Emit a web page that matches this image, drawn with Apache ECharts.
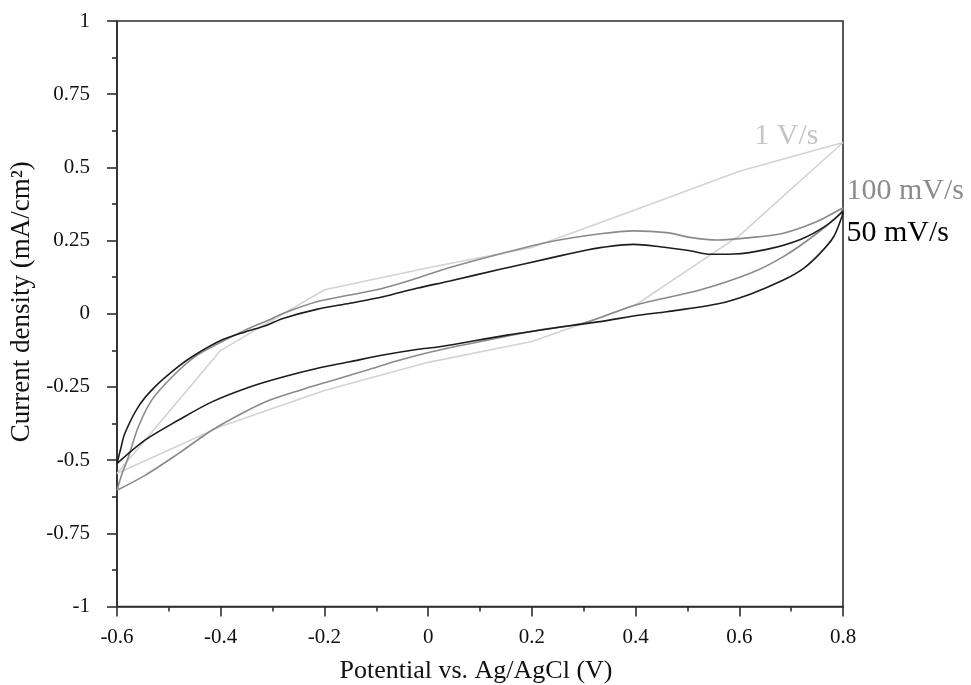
<!DOCTYPE html>
<html>
<head>
<meta charset="utf-8">
<title>Cyclic voltammetry</title>
<script src="https://cdn.jsdelivr.net/npm/echarts@6/dist/echarts.min.js"></script>
<style>
  html, body { margin: 0; padding: 0; background: #fff; }
  #chart { width: 971px; height: 685px; }
</style>
</head>
<body>
<div id="chart"></div>
<script>
// Scan-rate labels
const scanRates = ['1 V/s', '100 mV/s', '50 mV/s'];

// Axis ticks
const xTicks = [-0.6, -0.4, -0.2, 0, 0.2, 0.4, 0.6, 0.8];
const yTicks = [-1, -0.75, -0.5, -0.25, 0, 0.25, 0.5, 0.75, 1];

// 1 V/s: potential (V) and current density (mA/cm²), one closed cycle
const potential1V = [-0.6, -0.4, -0.2, 0, 0.2, 0.4, 0.6, 0.8, 0.6, 0.4, 0.2, 0, -0.2, -0.4, -0.6];
const current1V   = [-0.546, -0.125, 0.082, 0.157, 0.226, 0.355, 0.487, 0.585, 0.267, 0.03, -0.095, -0.166, -0.262, -0.385, -0.546];

// 100 mV/s
const potential100 = [-0.6, -0.59, -0.578, -0.559, -0.533, -0.494, -0.45, -0.398, -0.353, -0.308, -0.28, -0.215, -0.151, -0.087, -0.022, 0.042, 0.14, 0.235, 0.332, 0.396, 0.46, 0.505, 0.557, 0.621, 0.685, 0.75, 0.795, 0.8,
                      0.795, 0.75, 0.685, 0.621, 0.524, 0.4, 0.3, 0.216, 0.152, 0.022, -0.054, -0.119, -0.183, -0.247, -0.305, -0.353, -0.417, -0.482, -0.546, -0.6];
const current100   = [-0.603, -0.545, -0.489, -0.387, -0.295, -0.216, -0.147, -0.096, -0.056, -0.022, 0.001, 0.041, 0.064, 0.087, 0.121, 0.158, 0.205, 0.246, 0.273, 0.283, 0.277, 0.261, 0.252, 0.26, 0.275, 0.315, 0.357, 0.362,
                      0.343, 0.275, 0.195, 0.138, 0.081, 0.03, -0.032, -0.055, -0.077, -0.124, -0.158, -0.193, -0.227, -0.261, -0.295, -0.335, -0.398, -0.478, -0.552, -0.603];

// 50 mV/s
const potential50 = [-0.6, -0.592, -0.585, -0.559, -0.527, -0.482, -0.45, -0.398, -0.353, -0.311, -0.28, -0.215, -0.151, -0.087, -0.022, 0.042, 0.139, 0.235, 0.306, 0.332, 0.396, 0.447, 0.505, 0.544, 0.589, 0.653, 0.718, 0.769, 0.8,
                     0.798, 0.782, 0.756, 0.724, 0.685, 0.621, 0.557, 0.46, 0.409, 0.332, 0.28, 0.152, 0.022, -0.022, -0.087, -0.151, -0.215, -0.28, -0.344, -0.417, -0.482, -0.546, -0.6];
const current50   = [-0.512, -0.455, -0.409, -0.318, -0.25, -0.181, -0.141, -0.09, -0.062, -0.039, -0.016, 0.015, 0.036, 0.058, 0.087, 0.112, 0.152, 0.19, 0.218, 0.226, 0.237, 0.229, 0.215, 0.203, 0.204, 0.22, 0.254, 0.303, 0.35,
                     0.332, 0.263, 0.207, 0.155, 0.115, 0.067, 0.033, 0.007, -0.004, -0.027, -0.039, -0.073, -0.113, -0.122, -0.141, -0.164, -0.187, -0.216, -0.25, -0.301, -0.364, -0.432, -0.512];

const serif = "'Liberation Serif', 'Times New Roman', serif";
const axisColor = '#2e2e2e';

function pairs(xs, ys) {
  return xs.map((x, i) => [x, ys[i]]);
}

// Label placed next to the vertex of each cycle at the positive limit
function vertexLabel(x, y, text, color, position, distance, offset) {
  return {
    symbol: 'circle',
    symbolSize: 1,
    silent: true,
    itemStyle: { color: 'rgba(0,0,0,0)' },
    label: {
      show: true,
      position: position,
      distance: distance,
      offset: offset,
      formatter: text,
      color: color,
      fontFamily: serif,
      fontSize: 30
    },
    data: [{ coord: [x, y] }]
  };
}

const chart = echarts.init(document.getElementById('chart'), null, { renderer: 'canvas' });

const lastIdx1 = potential1V.indexOf(0.8);
const lastIdx100 = potential100.indexOf(0.8);
const lastIdx50 = potential50.indexOf(0.8);

chart.setOption({
  animation: false,
  backgroundColor: '#fff',
  grid: {
    left: 117, right: 128, top: 21, bottom: 78.5,
    containLabel: false,
    outerBoundsMode: 'none',
    show: true,
    borderColor: axisColor,
    borderWidth: 1.6,
    backgroundColor: 'transparent'
  },
  xAxis: {
    type: 'value',
    min: xTicks[0],
    max: xTicks[xTicks.length - 1],
    interval: 0.2,
    name: 'Potential vs. Ag/AgCl (V)',
    nameLocation: 'middle',
    nameGap: 52,
    nameTextStyle: { fontFamily: serif, fontSize: 26, color: '#111', padding: [0, 8, 0, 0] },
    axisLine: { show: true, onZero: false, lineStyle: { color: axisColor, width: 1.6 } },
    axisTick: { show: true, inside: false, length: 10, lineStyle: { color: axisColor, width: 1.6 } },
    minorTick: { show: true, splitNumber: 2, length: 5, lineStyle: { color: axisColor, width: 1.6 } },
    splitLine: { show: false },
    axisLabel: { fontFamily: serif, fontSize: 21, color: '#111', margin: 20 }
  },
  yAxis: {
    type: 'value',
    min: yTicks[0],
    max: yTicks[yTicks.length - 1],
    interval: 0.25,
    name: 'Current density (mA/cm²)',
    nameLocation: 'middle',
    nameGap: 80,
    nameTextStyle: { fontFamily: serif, fontSize: 27, color: '#111', padding: [0, 0, 0, 24] },
    axisLine: { show: true, onZero: false, lineStyle: { color: axisColor, width: 1.6 } },
    axisTick: { show: true, inside: false, length: 10, lineStyle: { color: axisColor, width: 1.6 } },
    minorTick: { show: true, splitNumber: 2, length: 5, lineStyle: { color: axisColor, width: 1.6 } },
    splitLine: { show: false },
    axisLabel: { fontFamily: serif, fontSize: 21, color: '#111', margin: 27 }
  },
  series: [
    {
      name: scanRates[0],
      type: 'line',
      data: pairs(potential1V, current1V),
      showSymbol: false,
      smooth: false,
      lineStyle: { color: '#d3d3d3', width: 1.6 },
      markPoint: vertexLabel(potential1V[lastIdx1], current1V[lastIdx1], scanRates[0], '#c4c4c4', 'left', 24, [0, -6])
    },
    {
      name: scanRates[1],
      type: 'line',
      data: pairs(potential100, current100),
      showSymbol: false,
      smooth: 0.3,
      lineStyle: { color: '#8a8a8a', width: 1.6 },
      markPoint: vertexLabel(potential100[lastIdx100], current100[lastIdx100], scanRates[1], '#8c8c8c', 'right', 3, [0, -17])
    },
    {
      name: scanRates[2],
      type: 'line',
      data: pairs(potential50, current50),
      showSymbol: false,
      smooth: 0.3,
      lineStyle: { color: '#1c1c1c', width: 1.6 },
      markPoint: vertexLabel(potential50[lastIdx50], current50[lastIdx50], scanRates[2], '#000', 'right', 3, [0, 22])
    }
  ]
});
</script>
</body>
</html>
